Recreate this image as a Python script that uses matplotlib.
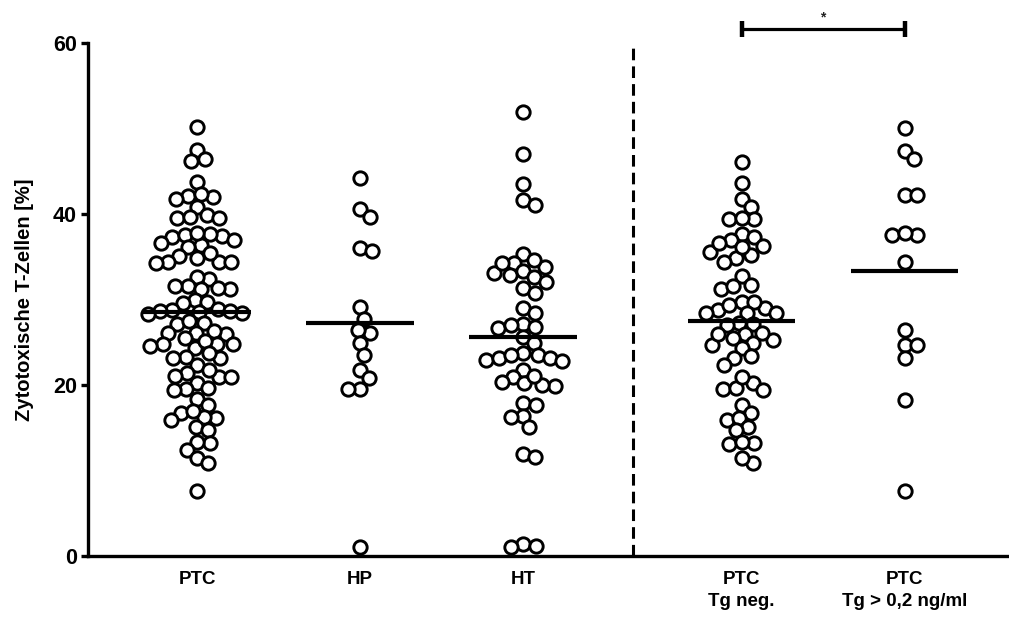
import numpy as np
import matplotlib
matplotlib.use("Agg")
import matplotlib.pyplot as plt

# ---------------- data ----------------
categories = ["PTC", "HP", "HT", "PTC\nTg neg.", "PTC\nTg > 0,2 ng/ml"]

ptc = [50.2, 47.5, 46.4, 46.2, 43.7, 42.1, 41.7, 42.0, 42.3, 40.8, 39.9, 39.5, 39.5,
       39.6, 37.4, 37.7, 37.0, 37.3, 36.4, 37.5, 37.8, 36.1, 36.6, 35.1, 34.9, 34.4,
       35.4, 34.4, 34.4, 34.3, 32.4, 32.6, 31.6, 31.2, 31.2, 31.3, 31.6,
       29.9, 29.7, 29.6, 28.9, 28.8, 28.5, 28.4, 28.6, 28.3, 28.7,
       27.1, 27.5, 27.2, 26.1, 26.0, 25.5, 26.1, 26.3, 24.8, 24.3, 24.8, 25.1, 24.6,
       24.8, 23.3, 23.1, 23.1, 23.7, 22.3, 21.4, 20.9, 20.9, 21.0, 21.8, 20.2, 19.5,
       19.4, 19.6, 18.4, 17.7, 16.7, 16.1, 15.9, 16.2, 15.1, 17.0, 14.7, 13.2, 13.3,
       12.4, 11.5, 10.9, 7.6]
hp = [44.2, 40.6, 39.7, 36.0, 35.7, 29.1, 27.7, 26.1, 26.4, 24.9, 23.5, 21.8, 20.8,
      19.5, 19.5, 1.0]
ht = [51.9, 47.0, 43.5, 41.6, 41.0, 35.3, 34.3, 33.8, 33.1, 32.9, 33.3, 34.3, 34.6,
      32.6, 32.0, 31.3, 30.8, 29.0, 28.4, 27.1, 26.8, 26.7, 27.0, 25.6, 24.9, 23.5,
      23.1, 22.9, 23.7, 22.8, 23.1, 23.5, 21.8, 20.9, 20.2, 19.9, 20.0, 20.4, 21.1,
      17.9, 17.7, 16.4, 16.3, 15.1, 11.9, 11.6, 1.4, 1.0, 1.2]
ptc_tg_neg = [46.1, 43.6, 41.8, 40.8, 39.4, 39.4, 39.5, 37.7, 37.0, 37.3, 36.3, 35.6,
              34.8, 34.4, 35.2, 36.1, 36.6, 32.7, 31.2, 31.6, 31.7, 29.7, 28.8, 29.0,
              29.4, 29.7, 28.4, 28.4, 28.4, 27.3, 27.0, 27.1, 26.0, 25.5, 24.9, 24.7,
              25.3, 26.0, 26.1, 24.3, 23.4, 23.1, 22.3, 20.2, 19.5, 19.4, 19.6, 20.9,
              17.7, 16.7, 15.9, 16.1, 15.1, 14.7, 13.2, 13.1, 13.3, 10.9, 11.5]
ptc_tg_pos = [50.1, 47.4, 46.4, 42.2, 42.2, 37.5, 37.5, 37.8, 34.4, 26.4, 24.7, 24.7,
              23.2, 18.2, 7.6]

groups = [ptc, hp, ht, ptc_tg_neg, ptc_tg_pos]
y_ticks = [0, 20, 40, 60]
y_label = "Zytotoxische T-Zellen [%]"
sig_label = "*"

# ---------------- layout ----------------
xpos = [0.0, 1.0, 2.0, 3.34, 4.34]
divider_x = 2.675
W, H = 1009, 629
fig = plt.figure(figsize=(W / 100, H / 100), dpi=100)
ax = fig.add_axes([88 / W, 1 - 556 / H, 1 - 88 / W, (556 - 43) / H])
ax.set_xlim(-0.669, 4.98)
ax.set_ylim(0, 60)

font = ["Liberation Sans", "DejaVu Sans"]


def swarm_offsets(ypx, d):
    n = len(ypx)
    order = np.argsort(-np.asarray(ypx))
    placed = []
    offs = np.zeros(n)
    for i in order:
        y = ypx[i]
        cands = [0.0]
        for (px, py) in placed:
            dy = y - py
            if abs(dy) < d:
                dx = np.sqrt(d * d - dy * dy)
                cands += [px + dx, px - dx]
        cands.sort(key=abs)
        chosen = cands[-1]
        for c in cands:
            if all((c - px) ** 2 + (y - py) ** 2 >= d * d - 1e-6 for px, py in placed):
                chosen = c
                break
        offs[i] = chosen
        placed.append((chosen, y))
    return offs


tr = ax.transData
px_per_x = tr.transform((1, 0))[0] - tr.transform((0, 0))[0]
for xp, vals in zip(xpos, groups):
    vals = np.asarray(vals, dtype=float)
    ypx = tr.transform(np.column_stack([np.zeros_like(vals), vals]))[:, 1]
    offs = swarm_offsets(ypx, 12.5) / px_per_x
    ax.plot(xp + offs, vals, linestyle="none", marker="o", markersize=9.6,
            markerfacecolor="white", markeredgecolor="black", markeredgewidth=2.1,
            clip_on=False, zorder=3)
    m = vals.mean()
    ax.plot([xp - 0.33, xp + 0.33], [m, m], color="black", lw=3.0,
            solid_capstyle="butt", zorder=4)

# divider
ax.plot([divider_x, divider_x], [0, 60], color="black", lw=2.2,
        linestyle=(0, (3.8, 2.0)), zorder=2)

# significance bar
ybar = 61.6
ax.plot([xpos[3], xpos[4]], [ybar, ybar], color="black", lw=2.3, clip_on=False,
        solid_capstyle="butt")
for xb in (xpos[3], xpos[4]):
    ax.plot([xb, xb], [ybar - 0.95, ybar + 0.95], color="black", lw=3.2,
            clip_on=False, solid_capstyle="butt")
ax.text((xpos[3] + xpos[4]) / 2, ybar + 0.6, sig_label, ha="center", va="bottom",
        fontsize=10, fontweight="bold", family=font, color="#222222")

# axes styling
for s in ("top", "right"):
    ax.spines[s].set_visible(False)
ax.spines["left"].set_linewidth(2.4)
ax.spines["bottom"].set_linewidth(2.4)
ax.spines["left"].set_capstyle("projecting")
ax.set_yticks(y_ticks)
ax.set_yticklabels([str(t) for t in y_ticks], fontsize=15.5, fontweight="bold",
                   family=font)
ax.tick_params(axis="y", direction="out", length=5, width=2.4, pad=3)
ax.set_xticks(xpos)
ax.set_xticklabels(categories, fontsize=13.5, fontweight="bold", family=font,
                   linespacing=1.35)
ax.tick_params(axis="x", length=0, pad=11)
ax.set_ylabel(y_label, fontsize=14.5, fontweight="bold", family=font)
ax.yaxis.set_label_coords(-0.059, 0.5)

fig.savefig("out.png", dpi=100)
